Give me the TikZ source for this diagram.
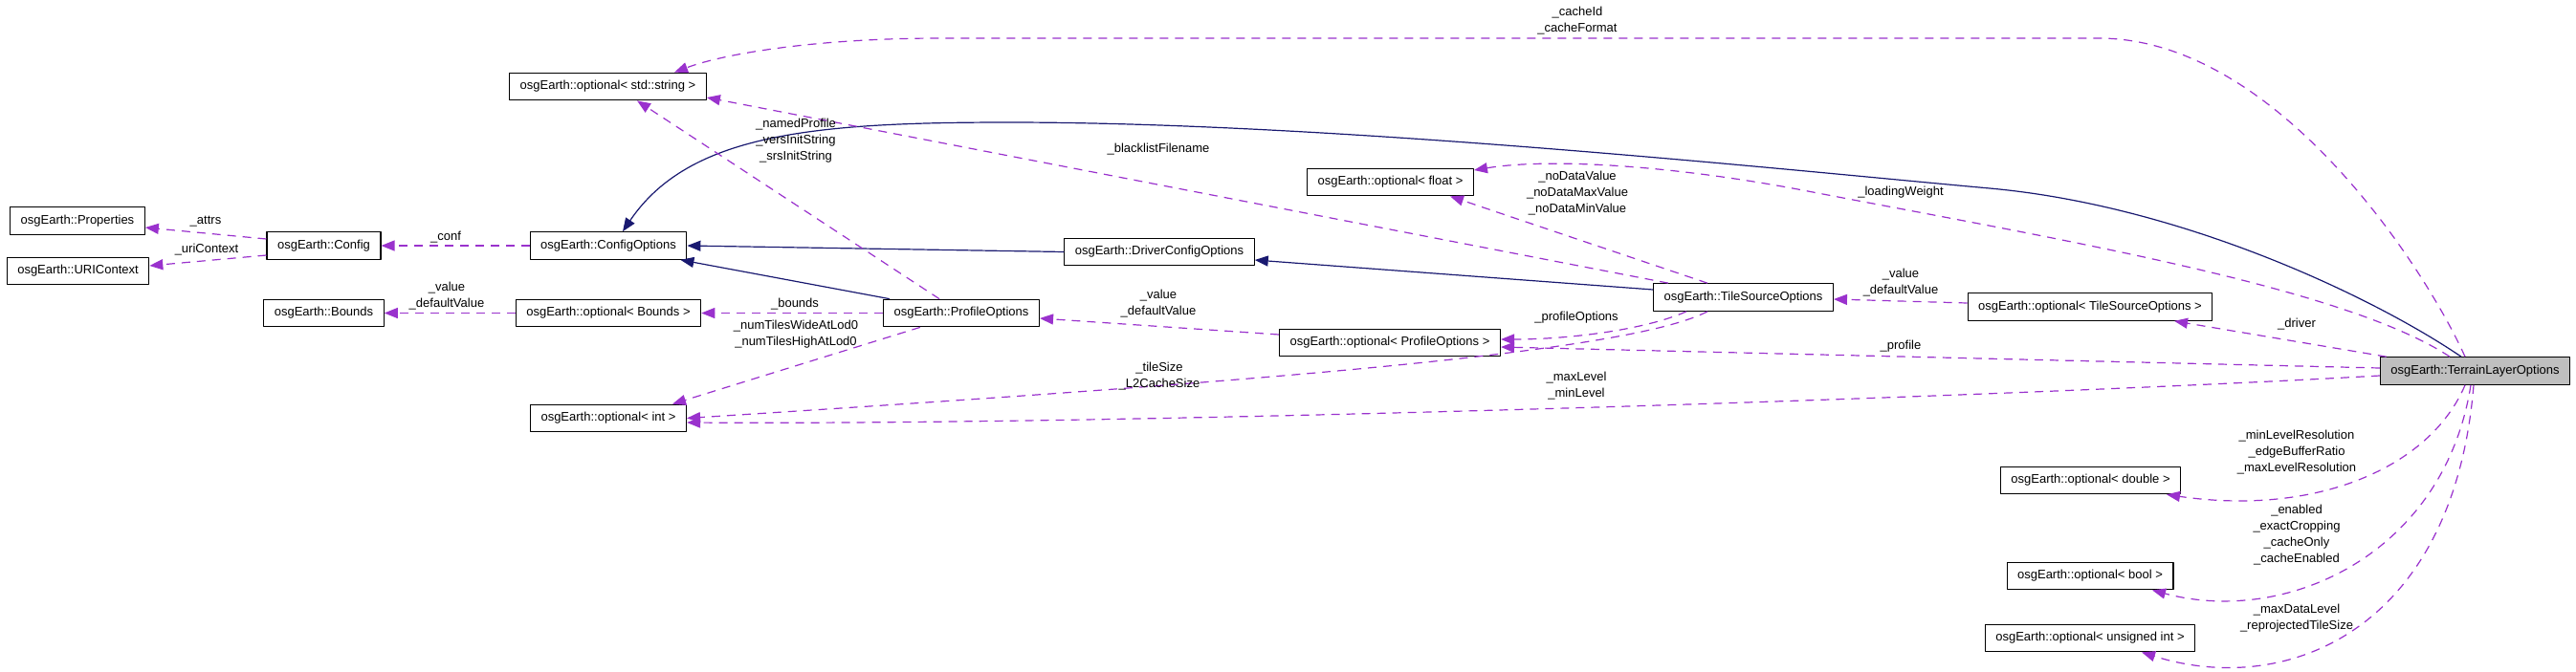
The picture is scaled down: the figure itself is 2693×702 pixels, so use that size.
\documentclass[tikz,border=0pt]{standalone}
\usepackage{fontspec}
\setmainfont{Liberation Sans}
\usetikzlibrary{arrows.meta}

\definecolor{memberpurple}{HTML}{9A32CD}
\definecolor{basenavy}{HTML}{191970}
\definecolor{focusgray}{HTML}{BFBFBF}

\tikzset{
  cls/.style={draw=black, line width=1.2pt, fill=white, minimum height=28.5pt,
    inner xsep=11pt, inner ysep=0pt, font=\fontsize{13}{15}\selectfont},
  focus/.style={cls, fill=focusgray},
  member/.style={draw=memberpurple, line width=1.2pt, dash pattern=on 9pt off 7pt,
    -{Triangle[length=14pt,width=11pt]}},
  inherit/.style={draw=basenavy, line width=1.2pt, -{Triangle[length=14pt,width=11pt]}},
  lbl/.style={font=\fontsize{13}{17}\selectfont, align=center, inner sep=0pt}
}

\begin{document}
\begin{tikzpicture}[x=1pt, y=-1pt, line join=round]
  % Page window
  \useasboundingbox (0,0) rectangle (2693,702);

  % Classes
  \node[cls] (strOpt) at (635.5,90.5) {osgEarth::optional< std::string >};
  \node[cls] (props) at (81,231) {osgEarth::Properties};
  \node[cls] (uri) at (81.5,283.5) {osgEarth::URIContext};
  \node[cls] (config) at (338.5,257) {osgEarth::Config};
  \node[cls] (cfgOpts) at (636,257) {osgEarth::ConfigOptions};
  \node[cls] (floatOpt) at (1453.5,190.5) {osgEarth::optional< float >};
  \node[cls] (driverOpts) at (1212,263.5) {osgEarth::DriverConfigOptions};
  \node[cls] (bounds) at (338.5,327.5) {osgEarth::Bounds};
  \node[cls] (boundsOpt) at (636,327.5) {osgEarth::optional< Bounds >};
  \node[cls] (profOpts) at (1005,327.5) {osgEarth::ProfileOptions};
  \node[cls] (tileOpts) at (1822.5,311) {osgEarth::TileSourceOptions};
  \node[cls] (tileOptOpt) at (2185,321) {osgEarth::optional< TileSourceOptions >};
  \node[cls] (profOptOpt) at (1453,358.5) {osgEarth::optional< ProfileOptions >};
  \node[focus] (terrain) at (2587.5,388) {osgEarth::TerrainLayerOptions};
  \node[cls] (intOpt) at (636,437.5) {osgEarth::optional< int >};
  \node[cls] (doubleOpt) at (2185.5,502.5) {osgEarth::optional< double >};
  \node[cls] (boolOpt) at (2185,602.5) {osgEarth::optional< bool >};
  \node[cls] (uintOpt) at (2185,667.5) {osgEarth::optional< unsigned int >};

  % Base classes
  \draw[inherit] ([xshift=7pt]profOpts.north west) -- ([xshift=-7pt]cfgOpts.south east);
  \draw[inherit] (driverOpts.west) -- (cfgOpts.east);
  \draw[inherit] ([yshift=8pt]tileOpts.west) -- ([yshift=-8.5pt]driverOpts.east);
  \draw[inherit] ([xshift=-14.5pt]terrain.north) .. controls (2480,310) and (2280,215) .. (2080,197)
    .. controls (1880,179) and (1400,128) .. (1054,128)
    .. controls (850,128) and (720,140) .. ([xshift=15pt]cfgOpts.north);

  % Members
  \draw[member] ([yshift=7pt]config.west) -- ([yshift=-7pt]props.east);
  \draw[member] ([yshift=-10pt]config.west) -- ([yshift=5.5pt]uri.east);
  \draw[member] (cfgOpts.west) -- (config.east);
  \draw[member] (boundsOpt.west) -- (bounds.east);
  \draw[member] (profOpts.west) -- (boundsOpt.east);
  \draw[member] ([xshift=-43pt]profOpts.south) -- ([xshift=67pt]intOpt.north);
  \draw[member] ([xshift=-23pt]profOpts.north) -- ([xshift=30.5pt]strOpt.south);
  \draw[member] ([yshift=8.5pt]profOptOpt.west) -- ([yshift=-5.5pt]profOpts.east);
  \draw[member] ([xshift=16pt]tileOpts.north west) -- ([yshift=-11.5pt]strOpt.east);
  \draw[member] ([xshift=-37.5pt]tileOpts.north) -- ([xshift=62.5pt]floatOpt.south);
  \draw[member] ([xshift=-59.5pt]tileOpts.south) .. controls (1720,345) and (1640,355) .. ([yshift=3.5pt]profOptOpt.east);
  \draw[member] ([xshift=-37.5pt]tileOpts.south) .. controls (1700,370) and (1300,400) .. (intOpt.east);
  \draw[member] ([yshift=4pt]tileOptOpt.west) -- ([yshift=-2pt]tileOpts.east);
  \draw[member] ([xshift=-26.5pt]terrain.north) .. controls (2450,300) and (2150,250) .. (1890,200)
    .. controls (1750,173) and (1620,165) .. ([yshift=12.5pt]floatOpt.east);
  \draw[member] ([xshift=-10.5pt]terrain.north) .. controls (2535,280) and (2380,40) .. (2194,40)
    -- (982,40) .. controls (860,40) and (760,55) .. ([xshift=69.5pt]strOpt.north);
  \draw[member] ([xshift=7pt]terrain.north west) -- ([xshift=88pt]tileOptOpt.south);
  \draw[member] ([yshift=3pt]terrain.west) -- ([yshift=-4.5pt]profOptOpt.east);
  \draw[member] ([yshift=-5pt]terrain.west) .. controls (2100,415) and (1200,445) .. ([yshift=-4.5pt]intOpt.east);
  \draw[member] ([xshift=-10.5pt]terrain.south) .. controls (2540,490) and (2420,540) .. ([xshift=79.5pt]doubleOpt.south);
  \draw[member] ([xshift=-4.5pt]terrain.south) .. controls (2555,580) and (2390,655) .. ([xshift=65pt]boolOpt.south);
  \draw[member] ([xshift=-1.5pt]terrain.south) .. controls (2565,660) and (2390,730) .. ([xshift=54pt]uintOpt.south);

  % Member names
  \node[lbl] (attrsLbl) at (215,232) {\_attrs};
  \node[lbl] (uriLbl) at (216,261) {\_uriContext};
  \node[lbl] (confLbl) at (466,248) {\_conf};
  \node[lbl] (boundsValLbl) at (467,309.5) {\_value\\\_defaultValue};
  \node[lbl] (boundsLbl) at (831,318) {\_bounds};
  \node[lbl] (numTilesLbl) at (832,349.5) {\_numTilesWideAtLod0\\\_numTilesHighAtLod0};
  \node[lbl] (profStrLbl) at (832,147.5) {\_namedProfile\\\_versInitString\\\_srsInitString};
  \node[lbl] (blacklistLbl) at (1211,156.5) {\_blacklistFilename};
  \node[lbl] (noDataLbl) at (1649,202) {\_noDataValue\\\_noDataMaxValue\\\_noDataMinValue};
  \node[lbl] (weightLbl) at (1987,201) {\_loadingWeight};
  \node[lbl] (cacheLbl) at (1649,22) {\_cacheId\\\_cacheFormat};
  \node[lbl] (driverLbl) at (2401,339) {\_driver};
  \node[lbl] (tileValLbl) at (1987,296) {\_value\\\_defaultValue};
  \node[lbl] (profOptLbl) at (1648,332) {\_profileOptions};
  \node[lbl] (profValLbl) at (1211,318) {\_value\\\_defaultValue};
  \node[lbl] (tileSizeLbl) at (1212,393.5) {\_tileSize\\\_L2CacheSize};
  \node[lbl] (profileLbl) at (1987,362.5) {\_profile};
  \node[lbl] (levelLbl) at (1648,404) {\_maxLevel\\\_minLevel};
  \node[lbl] (resLbl) at (2401,473) {\_minLevelResolution\\\_edgeBufferRatio\\\_maxLevelResolution};
  \node[lbl] (flagsLbl) at (2401,560) {\_enabled\\\_exactCropping\\\_cacheOnly\\\_cacheEnabled};
  \node[lbl] (dataLbl) at (2401,647) {\_maxDataLevel\\\_reprojectedTileSize};
\end{tikzpicture}
\end{document}
